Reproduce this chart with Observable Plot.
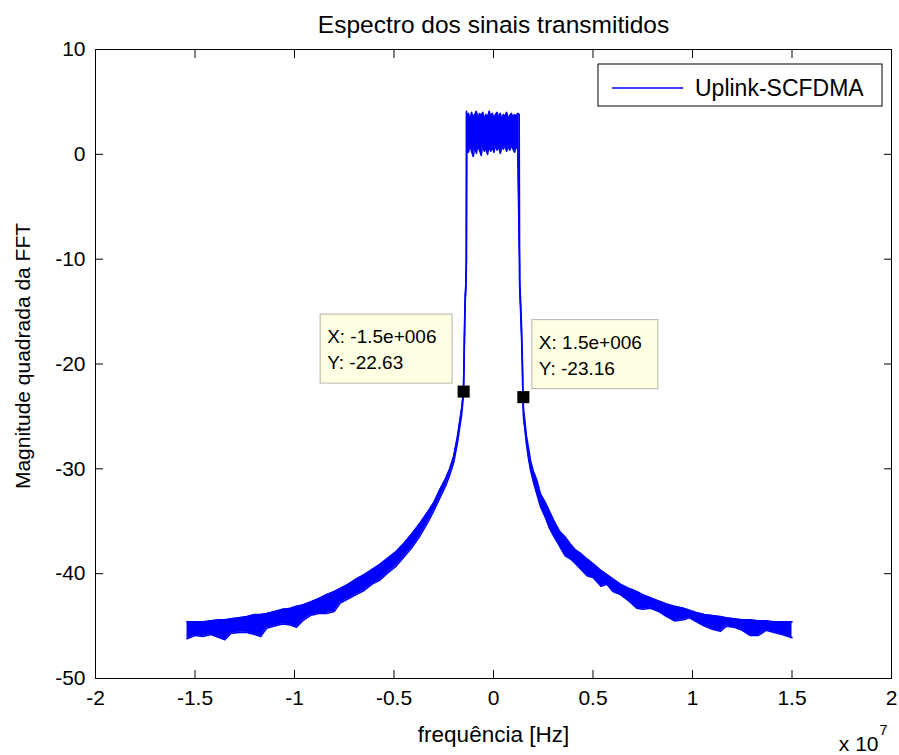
<!DOCTYPE html>
<html><head><meta charset="utf-8">
<script src="https://cdn.jsdelivr.net/npm/d3@7"></script>
<script src="https://cdn.jsdelivr.net/npm/@observablehq/plot@0.6"></script>
<style>
body{margin:0;background:#fff;}
#chart{width:899px;height:755px;}
#chart svg{font-family:"Liberation Sans", Arial, sans-serif;}
</style></head><body><div id="chart"></div>
<script>
const title = "Espectro dos sinais transmitidos";
const xLabel = "frequência [Hz]";
const yLabel = "Magnitude quadrada da FFT";
const seriesName = "Uplink-SCFDMA";
const xExponent = ["x 10", "7"];
const xTicks = [-2, -1.5, -1, -0.5, 0, 0.5, 1, 1.5, 2]; // ×10^7 Hz
const yTicks = [-50, -40, -30, -20, -10, 0, 10];

// frequency in units of 10^7 Hz, upper and lower edge of the drawn band (dB)
const freq = [
  -1.540,-1.500,-1.460,-1.420,-1.380,-1.350,-1.320,-1.280,-1.240,-1.200,-1.170,-1.140,-1.100,-1.060,-1.020,
  -0.990,-0.960,-0.920,-0.880,-0.840,-0.800,-0.770,-0.730,-0.690,-0.650,-0.610,-0.570,-0.530,-0.490,-0.450,
  -0.410,-0.370,-0.330,-0.300,-0.270,-0.240,-0.220,-0.200,-0.182,-0.170,-0.160,-0.151,-0.148,-0.145,-0.142,
  -0.139,-0.1365,-0.136,
  -0.134,-0.126,-0.118,-0.110,-0.102,-0.094,-0.086,-0.078,-0.070,-0.062,-0.054,-0.046,-0.038,-0.030,-0.022,
  -0.014,-0.006,0.002,0.010,0.018,0.026,0.034,0.042,0.050,0.058,0.066,0.074,0.082,0.090,0.098,0.106,0.114,
  0.122,0.129,
  0.131,0.1315,0.135,0.140,0.145,0.148,0.151,0.157,0.165,0.175,0.186,0.200,0.218,0.236,0.260,0.280,0.302,
  0.330,0.360,0.387,0.410,0.440,0.470,0.503,0.540,0.570,0.600,0.638,0.680,0.720,0.750,0.789,0.830,0.870,
  0.910,0.955,0.985,1.020,1.060,1.100,1.140,1.170,1.210,1.250,1.290,1.330,1.370,1.410,1.450,1.500,1.543
];
const upper = [
  -44.6,-44.6,-44.6,-44.5,-44.4,-44.4,-44.3,-44.2,-44.1,-43.9,-43.9,-43.8,-43.6,-43.4,-43.3,
  -43.1,-43.0,-42.7,-42.4,-42.0,-41.7,-41.4,-41.0,-40.5,-40.1,-39.6,-39.1,-38.5,-37.9,-37.1,
  -36.2,-35.2,-34.1,-33.2,-32.0,-30.9,-30.0,-28.8,-27.0,-25.5,-24.2,-22.6,-19.5,-16.0,-13.5,
  -12.3,-10.0,4.1,
  3.6,3.9,3.3,4.0,3.5,3.8,4.1,3.4,3.9,3.6,4.0,3.3,3.8,3.5,4.1,
  3.6,3.9,3.4,3.8,4.0,3.5,3.9,3.3,3.8,3.6,4.0,3.4,3.7,3.9,3.5,3.8,
  3.6,3.9,
  3.8,-10.0,-12.0,-13.5,-16.0,-19.5,-23.1,-24.4,-25.3,-26.8,-27.9,-29.2,-30.2,-31.1,-32.4,-33.2,-34.0,
  -34.9,-35.9,-36.5,-37.2,-37.7,-38.1,-38.6,-39.1,-39.7,-40.1,-40.5,-41.0,-41.4,-41.7,-42.0,-42.3,-42.6,
  -42.9,-43.1,-43.3,-43.5,-43.7,-43.9,-44.0,-44.1,-44.2,-44.3,-44.4,-44.4,-44.5,-44.5,-44.6,-44.6,-44.6
];
const lower = [
  -46.2,-45.9,-46.0,-45.8,-46.1,-46.3,-45.7,-45.6,-45.6,-45.8,-46.0,-45.2,-45.0,-44.8,-44.9,
  -45.1,-44.5,-44.0,-43.8,-43.8,-43.6,-42.8,-42.4,-42.0,-41.6,-41.0,-40.6,-39.9,-39.3,-38.4,
  -37.5,-36.4,-35.1,-34.0,-32.8,-31.6,-30.6,-29.4,-27.6,-26.1,-24.8,-23.0,-20.0,-16.6,-14.0,
  -12.9,-10.5,-8.5,
  0.6,0.2,0.9,0.3,-0.2,0.7,0.1,0.8,0.4,-0.1,0.9,0.3,0.6,0.0,0.8,
  0.3,0.7,0.2,0.9,0.4,0.8,0.1,0.7,0.5,0.9,0.3,0.8,0.4,0.9,0.5,0.2,
  0.8,0.5,
  -8.5,-10.5,-12.6,-14.3,-16.8,-20.1,-23.4,-25.2,-26.1,-27.5,-28.9,-30.1,-31.2,-32.4,-33.6,-34.6,-35.6,
  -36.4,-37.3,-38.3,-38.6,-39.0,-39.6,-40.2,-40.4,-41.2,-41.0,-41.7,-42.0,-42.6,-43.3,-43.4,-43.3,-43.6,
  -44.1,-44.5,-44.4,-44.2,-44.6,-45.0,-45.3,-45.5,-45.0,-45.1,-45.4,-45.9,-45.9,-45.4,-45.6,-45.8,-46.1
];

// data tips
const tipFreqHz = [-1.5e6, 1.5e6];
const tipMag = [-22.63, -23.16];
const tipXText = ["-1.5e+006", "1.5e+006"];
const tipYText = ["-22.63", "-23.16"];
const tipSide = ["left", "right"];

const rows = freq.map((f, i) => ({f, hi: upper[i], lo: lower[i]}));
const tips = tipFreqHz.map((f, i) => ({f: f / 1e7, m: tipMag[i], xt: tipXText[i], yt: tipYText[i], side: tipSide[i]}));

const blue = "#0000ff";
const W = 899, H = 755, mL = 95, mR = 8, mT = 49, mB = 77;
const fmt = d => String(d);

const chart = Plot.plot({
  width: W, height: H,
  marginLeft: mL, marginRight: mR, marginTop: mT, marginBottom: mB,
  style: {fontSize: "21px", fontFamily: "'Liberation Sans', Arial, sans-serif", background: "#fff", color: "#000"},
  x: {domain: [-2, 2]},
  y: {domain: [-50, 10]},
  marks: [
    Plot.areaY(rows, {x: "f", y1: "lo", y2: "hi", fill: blue, curve: "linear"}),
    Plot.line(rows, {x: "f", y: "hi", stroke: blue, strokeWidth: 1.6}),
    Plot.line(rows, {x: "f", y: "lo", stroke: blue, strokeWidth: 1.6}),
    Plot.frame({stroke: "#000", strokeWidth: 1}),
    Plot.axisX(xTicks, {anchor: "bottom", tickSize: 0, tickPadding: 12, tickFormat: fmt, label: null}),
    Plot.axisX(xTicks, {anchor: "bottom", tickSize: -8, tickFormat: () => "", label: null}),
    Plot.axisX(xTicks, {anchor: "top", tickSize: -8, tickFormat: () => "", label: null}),
    Plot.axisY(yTicks, {anchor: "left", tickSize: 0, tickPadding: 10, tickFormat: fmt, label: null}),
    Plot.axisY(yTicks, {anchor: "left", tickSize: -8, tickFormat: () => "", label: null}),
    Plot.axisY(yTicks, {anchor: "right", tickSize: -8, tickFormat: () => "", label: null}),
    Plot.text([title], {frameAnchor: "top", dy: -17, lineAnchor: "bottom", fontSize: 24.5}),
    Plot.text([xLabel], {frameAnchor: "bottom", dy: 63, lineAnchor: "bottom", fontSize: 22.5}),
    Plot.text([yLabel], {frameAnchor: "left", textAnchor: "middle", rotate: -90, dx: -72, dy: -8}),
    Plot.text([xExponent[0]], {frameAnchor: "bottom-right", dx: -13, dy: 72, textAnchor: "end", lineAnchor: "bottom"}),
    Plot.text([xExponent[1]], {frameAnchor: "bottom-right", dx: -4, dy: 56, textAnchor: "end", lineAnchor: "bottom", fontSize: 15}),
    Plot.dot(tips, {x: "f", y: "m", symbol: "square", fill: "#000", r: 6.8})
  ]
});
document.getElementById("chart").append(chart);

// legend and data-tip boxes, anchored to the plot frame and the scales
const svg = d3.select(chart);
const xs = chart.scale("x"), ys = chart.scale("y");
const fr = W - mR;
const lg = svg.append("g").attr("text-anchor", "start");
lg.append("rect").attr("x", fr - 293).attr("y", mT + 15).attr("width", 284).attr("height", 42)
  .attr("fill", "#fff").attr("stroke", "#000");
lg.append("line").attr("x1", fr - 279).attr("x2", fr - 208).attr("y1", mT + 39).attr("y2", mT + 39)
  .attr("stroke", blue).attr("stroke-width", 1.5);
lg.append("text").attr("x", fr - 196).attr("y", mT + 47).attr("font-size", 23).attr("text-anchor", "start").text(seriesName);

for (const t of tips) {
  const px = xs.apply(t.f), py = ys.apply(t.m);
  const bw = t.side === "left" ? 132 : 126, bh = 69;
  const bx = t.side === "left" ? px - 11 - bw : px + 9;
  const by = py - 8 - bh;
  const g = svg.append("g").attr("text-anchor", "start");
  g.append("rect").attr("x", bx).attr("y", by).attr("width", bw).attr("height", bh)
    .attr("fill", "#ffffe4").attr("stroke", "#b4b4a8");
  g.append("text").attr("x", bx + 7).attr("y", by + 29).attr("font-size", 19).attr("text-anchor", "start").text("X: " + t.xt);
  g.append("text").attr("x", bx + 7).attr("y", by + 55).attr("font-size", 19).attr("text-anchor", "start").text("Y: " + t.yt);
}
</script></body></html>
